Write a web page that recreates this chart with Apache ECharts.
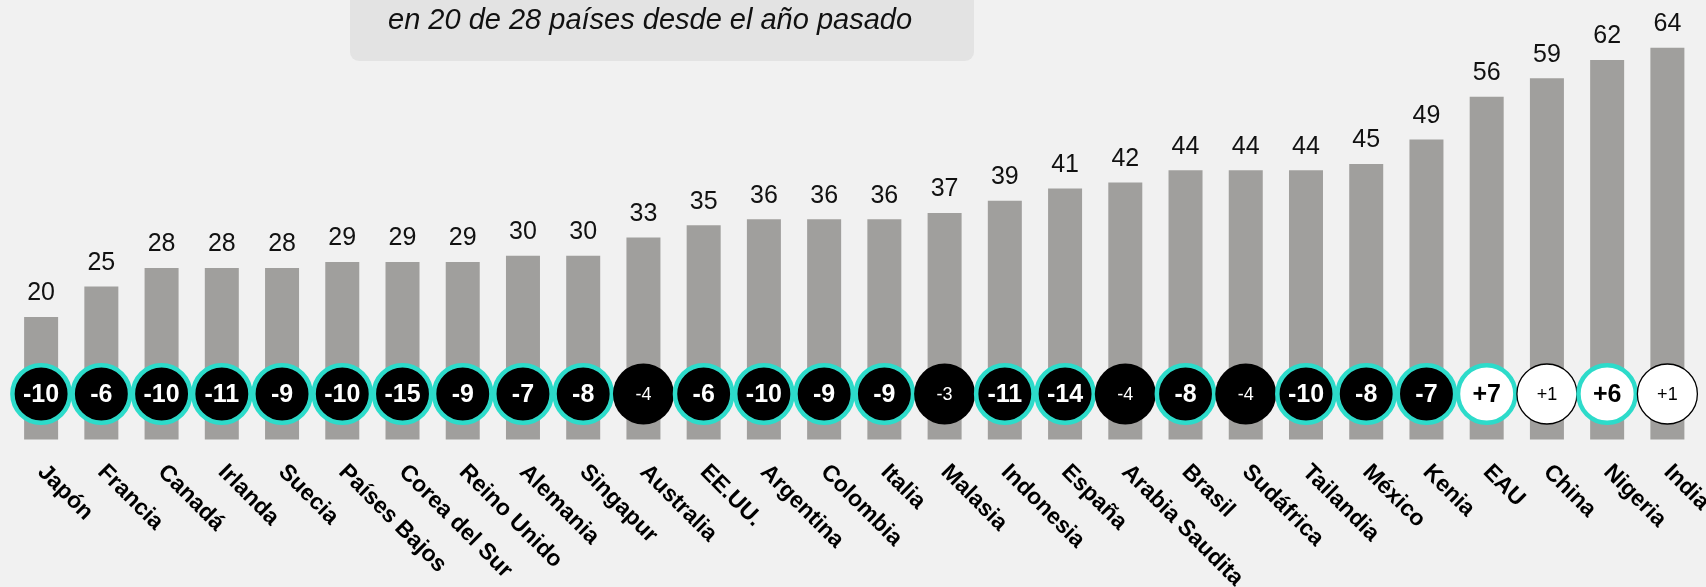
<!DOCTYPE html>
<html>
<head>
<meta charset="utf-8">
<script src="https://cdn.jsdelivr.net/npm/echarts@6/dist/echarts.min.js"></script>
<style>
html,body{margin:0;padding:0;background:#f1f1f1;}
#chart{width:1706px;height:587px;}
</style>
</head>
<body>
<div id="chart"></div>
<script>
const countries = ["Japón","Francia","Canadá","Irlanda","Suecia","Países Bajos","Corea del Sur","Reino Unido","Alemania","Singapur","Australia","EE.UU.","Argentina","Colombia","Italia","Malasia","Indonesia","España","Arabia Saudita","Brasil","Sudáfrica","Tailandia","México","Kenia","EAU","China","Nigeria","India"];
const values = [20,25,28,28,28,29,29,29,30,30,33,35,36,36,36,37,39,41,42,44,44,44,45,49,56,59,62,64];
const changes = [-10,-6,-10,-11,-9,-10,-15,-9,-7,-8,-4,-6,-10,-9,-9,-3,-11,-14,-4,-8,-4,-10,-8,-7,7,1,6,1];
const subtitle = "en 20 de 28 países desde el año pasado";

const FONT = "'Liberation Sans', Arial, sans-serif";
const TEAL = "#2DDBCA";

const chart = echarts.init(document.getElementById('chart'), null, {renderer:'canvas'});

function fmt(c){ return (c > 0 ? '+' : '') + c; }

chart.setOption({
  backgroundColor: '#f1f1f1',
  animation: false,
  grid: {left: 11, right: 8.5, top: 11, bottom: 147.5, containLabel: false, outerBoundsMode: 'none'},
  xAxis: {
    type: 'category',
    data: countries,
    axisLine: {show: false},
    axisTick: {show: false},
    axisLabel: {
      rotate: -45,
      interval: 0,
      margin: 29,
      color: '#000',
      fontFamily: FONT,
      fontWeight: 'bold',
      fontSize: 23
    }
  },
  yAxis: {
    type: 'value',
    min: 0, max: 70,
    show: false,
    splitLine: {show: false}
  },
  graphic: [
    {
      type: 'rect',
      left: 350, top: -20,
      shape: {width: 624, height: 81, r: 9},
      style: {fill: '#e3e3e3'},
      silent: true
    },
    {
      type: 'text',
      left: 388, top: 6,
      style: {
        text: subtitle,
        fill: '#111',
        font: 'italic 29px ' + FONT
      }
    }
  ],
  series: [
    {
      type: 'bar',
      data: values,
      barWidth: 34,
      itemStyle: {color: '#a09f9d'},
      label: {
        show: true,
        position: 'top',
        distance: 11,
        color: '#111',
        fontFamily: FONT,
        fontSize: 25
      },
      z: 1
    },
    {
      type: 'custom',
      data: changes.map((c, i) => [i, c]),
      z: 5,
      renderItem: function (params, api) {
        const idx = api.value(0);
        const c = api.value(1);
        const base = api.coord([idx, 0]);
        const cx = base[0], cy = base[1] - 45.5;
        const sig = Math.abs(c) >= 5;
        const neg = c < 0;
        const fill = neg ? '#000' : '#fff';
        let stroke = null, lw = 0, r = 30.5;
        if (sig) { stroke = TEAL; lw = 4.5; r = 28.7; }
        else if (!neg) { stroke = '#000'; lw = 1.3; r = 30; }
        return {
          type: 'group',
          children: [
            {
              type: 'circle',
              shape: {cx: cx, cy: cy, r: r},
              style: {fill: fill, stroke: stroke, lineWidth: lw}
            },
            {
              type: 'text',
              x: cx, y: cy + 1,
              style: {
                text: fmt(c),
                fill: neg ? '#fff' : '#000',
                font: (sig ? 'bold 25px ' : '18px ') + FONT,
                align: 'center',
                verticalAlign: 'middle'
              }
            }
          ]
        };
      }
    }
  ]
});
</script>
</body>
</html>
